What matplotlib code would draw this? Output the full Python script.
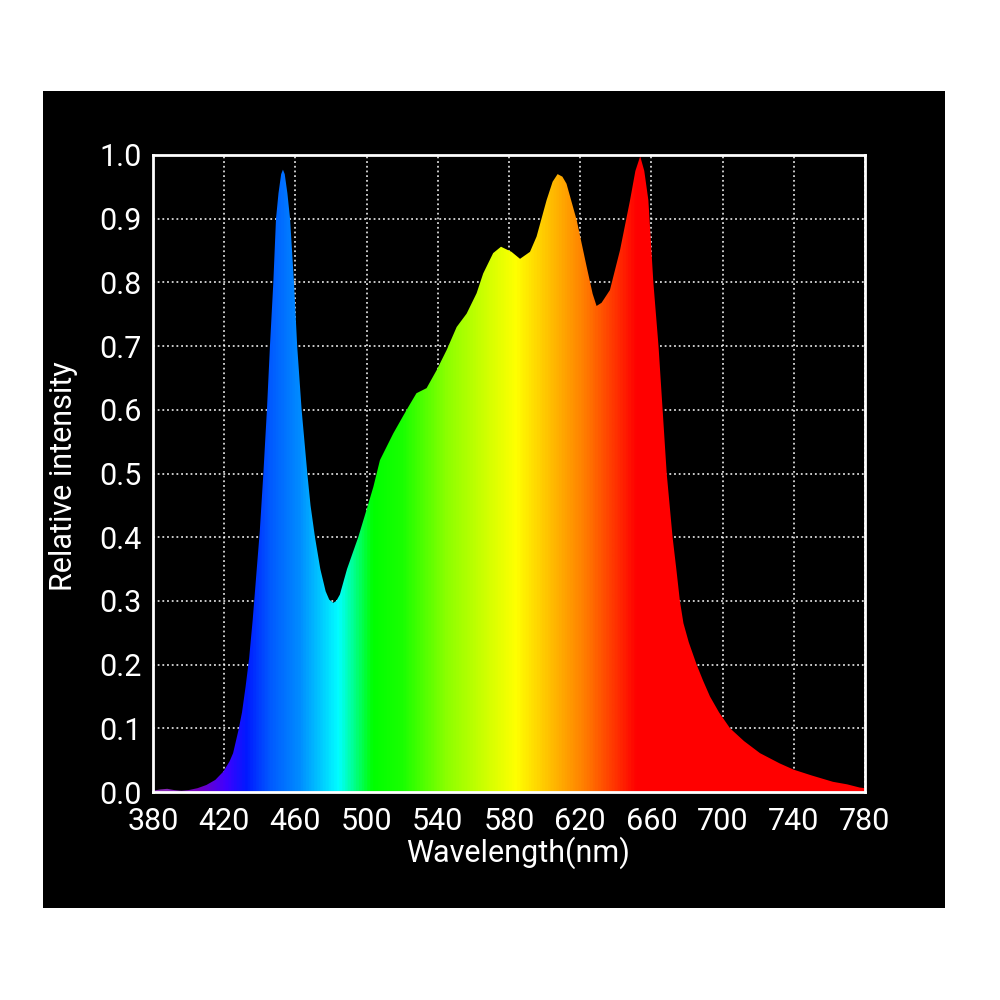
import numpy as np
import matplotlib
matplotlib.use("Agg")
import matplotlib.pyplot as plt
from matplotlib.colors import LinearSegmentedColormap, Normalize

plt.rcParams['font.family'] = ['Roboto', 'DejaVu Sans']

# === DATA ===
wavelength = [380, 384, 388, 392, 396, 400, 405, 410, 415, 419.5, 423, 425, 428,
              430, 432, 434, 436, 438, 440, 442, 444, 445.7, 447.6, 449.1, 450.5,
              452, 453, 454, 455.5, 457, 459.2, 461, 463.5, 466.7, 468.5, 471,
              474, 477, 479, 481.3, 483, 485, 489, 495.3, 499.1, 503.8, 507.5,
              515, 522.5, 528, 533.7, 539.3, 545, 550.6, 556.2, 561.8, 565.5,
              571.1, 575.5, 581.4, 586.2, 591.8, 595.5, 601.1, 604.5, 607.3,
              610, 612.3, 618, 623.6, 627, 629.2, 632, 636.7, 642.4, 648, 651,
              653.7, 656, 658.3, 661.1, 664, 666.3, 668.6, 671.9, 674, 676, 678,
              681, 685.4, 689, 692.9, 698, 704.2, 712, 721, 732, 740, 750, 762,
              770, 777, 780]
intensity = [0.002, 0.004, 0.005, 0.003, 0.002, 0.003, 0.006, 0.011, 0.019, 0.032,
             0.048, 0.061, 0.097, 0.125, 0.165, 0.21, 0.27, 0.34, 0.41, 0.50,
             0.60, 0.70, 0.80, 0.90, 0.94, 0.97, 0.977, 0.97, 0.94, 0.90, 0.80,
             0.70, 0.60, 0.50, 0.45, 0.40, 0.35, 0.315, 0.302, 0.297, 0.300,
             0.31, 0.35, 0.40, 0.435, 0.479, 0.521, 0.563, 0.600, 0.626, 0.634,
             0.662, 0.694, 0.730, 0.751, 0.783, 0.814, 0.846, 0.856, 0.848,
             0.837, 0.848, 0.872, 0.929, 0.958, 0.970, 0.966, 0.955, 0.898,
             0.825, 0.782, 0.763, 0.768, 0.788, 0.851, 0.929, 0.975, 0.998,
             0.975, 0.929, 0.80, 0.70, 0.60, 0.50, 0.40, 0.35, 0.30, 0.265,
             0.235, 0.20, 0.175, 0.15, 0.125, 0.10, 0.08, 0.061, 0.045, 0.035,
             0.026, 0.016, 0.012, 0.007, 0.006]

x_ticks = [380, 420, 460, 500, 540, 580, 620, 660, 700, 740, 780]
y_ticks = [0.0, 0.1, 0.2, 0.3, 0.4, 0.5, 0.6, 0.7, 0.8, 0.9, 1.0]

# spectral colour stops (wavelength, rgb)
spec_stops = [
    (380, (0.55, 0.20, 0.70)),
    (405, (0.45, 0.00, 0.75)),
    (420, (0.25, 0.00, 1.00)),
    (432, (0.00, 0.10, 1.00)),
    (445, (0.00, 0.35, 1.00)),
    (462, (0.00, 0.55, 1.00)),
    (484, (0.00, 1.00, 1.00)),
    (503, (0.00, 1.00, 0.00)),
    (520, (0.10, 1.00, 0.00)),
    (545, (0.55, 1.00, 0.00)),
    (570, (0.85, 1.00, 0.00)),
    (584, (1.00, 1.00, 0.00)),
    (603, (1.00, 0.75, 0.00)),
    (622, (1.00, 0.50, 0.00)),
    (640, (1.00, 0.20, 0.00)),
    (652, (1.00, 0.00, 0.00)),
    (780, (1.00, 0.00, 0.00)),
]

# === FIGURE ===
fig = plt.figure(figsize=(10, 10), dpi=100, facecolor='white')
# black panel behind everything
bg = fig.add_axes([0.043, 0.092, 0.902, 0.817], zorder=-1)
bg.set_facecolor('black')
bg.set_xticks([])
bg.set_yticks([])
for s in bg.spines.values():
    s.set_visible(False)

ax = fig.add_axes([0.153, 0.208, 0.712, 0.637], zorder=1)
ax.set_facecolor('black')
ax.set_xlim(380, 780)
ax.set_ylim(0, 1.0)

# grid under the spectrum
ax.set_axisbelow(True)
ax.grid(True, color='white', linestyle=(0, (1, 1.6)), linewidth=1.3, alpha=0.85)

# spectrum: gradient image clipped to the filled area
lo, hi = spec_stops[0][0], spec_stops[-1][0]
cmap = LinearSegmentedColormap.from_list(
    'spec', [((w - lo) / (hi - lo), c) for w, c in spec_stops])
grad = np.linspace(lo, hi, 1200).reshape(1, -1)
poly = ax.fill_between(wavelength, intensity, 0, facecolor='none', edgecolor='none')
img = ax.imshow(grad, extent=[380, 780, 0, 1.0], aspect='auto', cmap=cmap,
                norm=Normalize(lo, hi), origin='lower', zorder=2, interpolation='bilinear')
img.set_clip_path(poly.get_paths()[0], transform=ax.transData)

# axes styling
for s in ax.spines.values():
    s.set_color('white')
    s.set_linewidth(2)
    s.set_zorder(3)
ax.set_xticks(x_ticks)
ax.set_yticks(y_ticks)
ax.set_yticklabels([f"{v:.1f}" for v in y_ticks])
ax.tick_params(colors='white', labelcolor='white', length=0, labelsize=22)
ax.tick_params(axis='x', pad=11)
ax.tick_params(axis='y', pad=8)

ax.set_xlabel("Wavelength(nm)", color='white', fontsize=22)
ax.set_ylabel("Relative intensity", color='white', fontsize=22)
ax.xaxis.set_label_coords(0.512, -0.070)
ax.yaxis.set_label_coords(-0.105, 0.495)

fig.savefig("out.png", dpi=100, facecolor='white')
